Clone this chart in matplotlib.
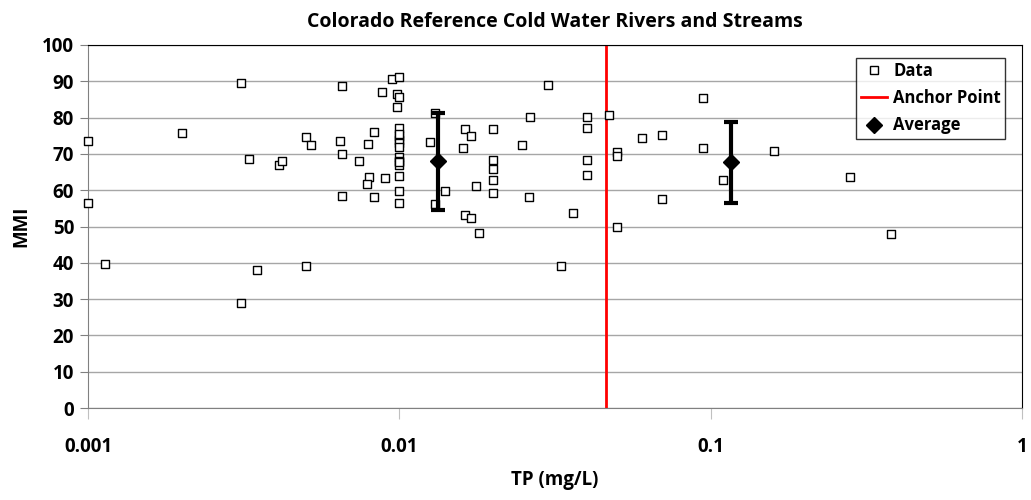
import numpy as np
import matplotlib
matplotlib.use('Agg')
import matplotlib.pyplot as plt
from matplotlib.lines import Line2D

plt.rcParams['font.family'] = ['Open Sans', 'DejaVu Sans']
plt.rcParams['font.weight'] = 'bold'

# TP (mg/L) and MMI for each site
tp = [0.001, 0.001, 0.00113, 0.002, 0.00311, 0.00311, 0.0033, 0.0035, 0.0041, 0.0042,
      0.00502, 0.0052, 0.005, 0.00646, 0.00653, 0.00653, 0.00653, 0.0074, 0.00792, 0.00832,
      0.0080, 0.0079, 0.0083, 0.00882, 0.0090, 0.00947, 0.0098, 0.0098,
      0.01, 0.01, 0.01, 0.01, 0.01, 0.01, 0.01, 0.01, 0.01, 0.01, 0.01, 0.01, 0.01, 0.01, 0.01,
      0.0130, 0.01258, 0.0130, 0.01398,
      0.0163, 0.01695, 0.016, 0.0176, 0.0163, 0.01695, 0.018,
      0.02, 0.02, 0.02, 0.02, 0.02,
      0.0247, 0.0262, 0.0261, 0.030, 0.033, 0.036,
      0.040, 0.040, 0.040, 0.040, 0.0472, 0.050, 0.050, 0.050,
      0.060, 0.070, 0.070, 0.0947, 0.0947, 0.1096, 0.160, 0.28, 0.38]
mmi = [73.5, 56.6, 39.7, 75.7, 89.5, 28.9, 68.5, 37.9, 66.9, 68.0,
       74.7, 72.4, 39.2, 73.5, 88.8, 70.1, 58.4, 68.1, 72.6, 75.9,
       63.7, 61.8, 58.2, 87.0, 63.4, 90.6, 86.5, 82.9,
       91.2, 85.8, 77.2, 74.9, 73.8, 72.9, 72.0, 69.2, 68.1, 66.9, 63.8, 59.8, 56.6, 75.5, 67.8,
       81.4, 73.2, 56.3, 59.8,
       76.8, 74.8, 71.5, 61.2, 53.1, 52.4, 48.1,
       76.8, 68.2, 65.8, 62.8, 59.1,
       72.4, 80.3, 58.1, 89.0, 39.0, 53.6,
       80.1, 77.0, 68.2, 64.1, 80.8, 70.4, 69.5, 50.0,
       74.5, 75.2, 57.5, 85.3, 71.5, 62.9, 70.9, 63.7, 48.0]

avg_tp = [0.0133, 0.1166]
avg_mmi = [68.0, 67.75]
avg_err = [13.35, 11.15]

anchor_tp = 0.0462

fig = plt.figure(figsize=(10.31, 5.0), dpi=100)
ax = fig.add_axes([88 / 1031, 1 - 408 / 500, (1022 - 88) / 1031, (408 - 45) / 500])

ax.set_xscale('log')
ax.set_xlim(0.001, 1)
ax.set_ylim(0, 100)
ax.set_yticks(np.arange(0, 101, 10))
ax.set_xticks([0.001, 0.01, 0.1, 1])
ax.set_xticklabels(['0.001', '0.01', '0.1', '1'])
ax.xaxis.set_minor_locator(matplotlib.ticker.NullLocator())

ax.grid(axis='y', color='#a6a6a6', linewidth=1)
ax.set_axisbelow(True)

ax.scatter(tp, mmi, marker='s', s=28, facecolors='white', edgecolors='black',
           linewidths=1, zorder=3, clip_on=False)
ax.axvline(anchor_tp, color='red', linewidth=2, zorder=2)
ax.errorbar(avg_tp, avg_mmi, yerr=avg_err, fmt='D', color='black', markersize=8,
            elinewidth=3, capsize=5, capthick=3, zorder=4)

for s in ['left', 'bottom']:
    ax.spines[s].set_color('#808080')
for s in ['top', 'right']:
    ax.spines[s].set_color('black')
ax.tick_params(axis='y', length=6, color='#808080', labelsize=13.5, pad=4)
ax.tick_params(axis='x', length=8, color='#c0c0c0', labelsize=13.5, pad=13)
for lab in ax.get_xticklabels() + ax.get_yticklabels():
    lab.set_fontweight('bold')

ax.set_title('Colorado Reference Cold Water Rivers and Streams', fontsize=14,
             fontweight='bold', pad=13)
ax.set_xlabel('TP (mg/L)', fontsize=13.5, fontweight='bold', labelpad=9)
ax.set_ylabel('MMI', fontsize=13.5, fontweight='bold', labelpad=8)

handles = [
    Line2D([], [], marker='s', linestyle='none', markerfacecolor='white',
           markeredgecolor='black', markersize=6),
    Line2D([], [], color='red', linewidth=2),
    Line2D([], [], marker='D', linestyle='none', color='black', markersize=8),
]
leg = ax.legend(handles, ['Data', 'Anchor Point', 'Average'], loc='upper right',
                bbox_to_anchor=(1005 / 1031, 1 - 58 / 500),
                bbox_transform=fig.transFigure, fontsize=12, frameon=True,
                fancybox=False, edgecolor='black', borderpad=0.25,
                handlelength=1.6, handletextpad=0.35, labelspacing=0.55,
                borderaxespad=0)
leg.get_frame().set_linewidth(1)
for t in leg.get_texts():
    t.set_fontweight('bold')

fig.savefig('out.png', dpi=100)
